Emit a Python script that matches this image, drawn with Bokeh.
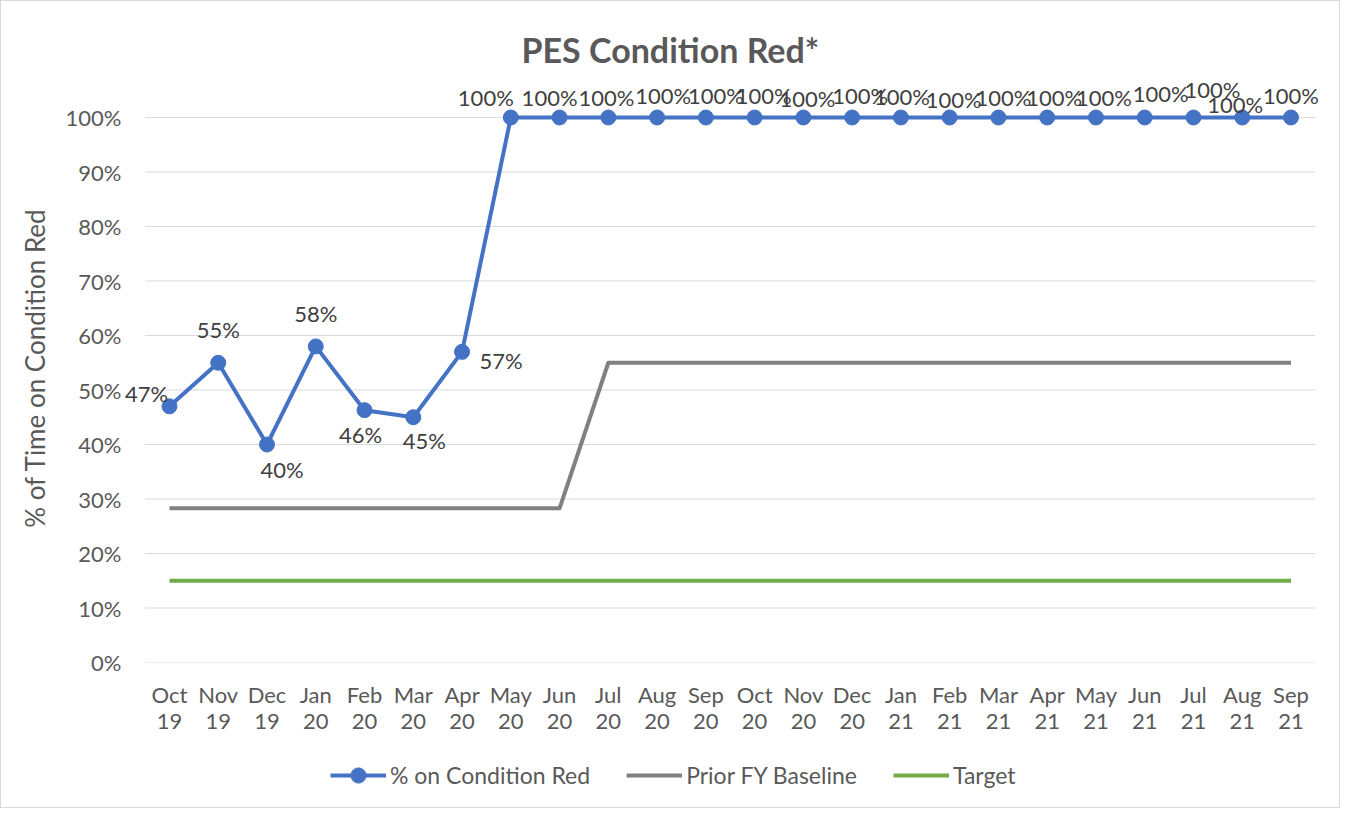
from bokeh.plotting import figure
from bokeh.layouts import column
from bokeh.models import (Range1d, FixedTicker, NumeralTickFormatter, LinearAxis,
                          Legend, LegendItem, ColumnDataSource)
from bokeh.core.properties import value
from bokeh.embed import file_html
from bokeh.resources import INLINE

# ---------------- data ----------------
months = ["Oct 19", "Nov 19", "Dec 19", "Jan 20", "Feb 20", "Mar 20", "Apr 20", "May 20",
          "Jun 20", "Jul 20", "Aug 20", "Sep 20", "Oct 20", "Nov 20", "Dec 20", "Jan 21",
          "Feb 21", "Mar 21", "Apr 21", "May 21", "Jun 21", "Jul 21", "Aug 21", "Sep 21"]
pct_condition_red = [0.47, 0.55, 0.40, 0.58, 0.463, 0.45, 0.57, 1.00,
                     1.00, 1.00, 1.00, 1.00, 1.00, 1.00, 1.00, 1.00,
                     1.00, 1.00, 1.00, 1.00, 1.00, 1.00, 1.00, 1.00]
prior_fy_baseline = [0.283, 0.283, 0.283, 0.283, 0.283, 0.283, 0.283, 0.283,
                     0.283, 0.55, 0.55, 0.55, 0.55, 0.55, 0.55, 0.55,
                     0.55, 0.55, 0.55, 0.55, 0.55, 0.55, 0.55, 0.55]
target = [0.15, 0.15, 0.15, 0.15, 0.15, 0.15, 0.15, 0.15,
          0.15, 0.15, 0.15, 0.15, 0.15, 0.15, 0.15, 0.15,
          0.15, 0.15, 0.15, 0.15, 0.15, 0.15, 0.15, 0.15]
y_ticks = [0, 0.1, 0.2, 0.3, 0.4, 0.5, 0.6, 0.7, 0.8, 0.9, 1.0]
series_names = ["% on Condition Red", "Prior FY Baseline", "Target"]

# data-label placement (style: pixel offsets from each point)
label_dx = [-23, 0, 15, 0, -4, 11, 39, -25, -10, -2, 6, 10, 9, 4, 8, 1, 4, 5, 7, 8, 16, 19, -7, 0]
label_dy = [-13, -33, 25, -33, 24, 23, 9, -20, -20, -20, -22, -22, -22, -19, -22, -21, -18, -20,
            -20, -20, -24, -28, -13, -22]

FONT = "Lato"
GREY_TXT = "#595959"
BLUE, GREY, GREEN = "#4472C4", "#808080", "#70AD47"

n = len(months)
xs = list(range(n))
W, H_MAIN, H_LEG = 1338, 745, 61

p = figure(x_range=Range1d(-0.984, n - 0.19),
           y_range=Range1d(0, 589 / 545),
           width=W, height=H_MAIN, output_backend="svg", toolbar_location=None,
           min_border_left=120, min_border_right=9, min_border_top=72,
           min_border_bottom=H_MAIN - 661,
           background_fill_color="white", border_fill_color="white",
           title="PES Condition Red*")
p.outline_line_color = None

src = ColumnDataSource(dict(
    x=xs, red=pct_condition_red, base=prior_fy_baseline, tgt=target,
    lbl=[f"{round(v * 100)}%" for v in pct_condition_red],
    dx=label_dx, dy=label_dy))

# horizontal gridlines spanning the category bands only
p.xgrid.grid_line_color = None
p.ygrid.grid_line_color = None
p.segment(x0=[-0.5] * len(y_ticks), x1=[n - 0.5] * len(y_ticks), y0=y_ticks, y1=y_ticks,
          line_color="#D9D9D9", line_width=1)

p.line("x", "tgt", source=src, line_color=GREEN, line_width=4)
p.line("x", "base", source=src, line_color=GREY, line_width=4, line_join="round")
p.line("x", "red", source=src, line_color=BLUE, line_width=4, line_join="round")
p.scatter("x", "red", source=src, size=15, marker="circle", fill_color=BLUE, line_color=BLUE)

p.text("x", "red", text="lbl", source=src, x_offset="dx", y_offset="dy",
       text_align="center", text_baseline="middle", text_font=value(FONT),
       text_font_size="22px", text_color="#404040")

# axes
p.yaxis.ticker = FixedTicker(ticks=y_ticks)
p.yaxis.formatter = NumeralTickFormatter(format="0%")
p.yaxis.axis_label = "% of Time on Condition Red"
p.yaxis.axis_label_standoff = 12
p.yaxis.axis_label_text_font = FONT
p.yaxis.axis_label_text_font_style = "normal"
p.yaxis.axis_label_text_font_size = "26px"
p.yaxis.axis_label_text_color = GREY_TXT
p.yaxis.major_label_standoff = 0

p.xaxis.ticker = FixedTicker(ticks=xs)
p.xaxis.major_label_overrides = {i: m.split()[0] for i, m in zip(xs, months)}
p.xaxis.major_label_standoff = 18

year_axis = LinearAxis(ticker=FixedTicker(ticks=xs),
                       major_label_overrides={i: m.split()[1] for i, m in zip(xs, months)},
                       major_label_standoff=3)
p.add_layout(year_axis, "below")

for ax in (p.xaxis[0], year_axis, p.yaxis[0]):
    ax.axis_line_color = None
    ax.major_tick_line_color = None
    ax.minor_tick_line_color = None
    ax.major_tick_out = 0
    ax.major_tick_in = 0
    ax.minor_tick_out = 0
    ax.major_label_text_font = FONT
    ax.major_label_text_font_size = "22px"
    ax.major_label_text_color = GREY_TXT

# title
p.title.align = "left"
p.title.offset = 400
p.title.standoff = 8
p.title.text_font = FONT
p.title.text_font_style = "bold"
p.title.text_font_size = "34px"
p.title.text_color = GREY_TXT

# legend strip (separate figure below the chart; series drawn off-view, only the key shows)
lg = figure(x_range=Range1d(0, 1), y_range=Range1d(5, 6), width=W, height=H_LEG,
            output_backend="svg", toolbar_location=None, x_axis_type=None, y_axis_type=None,
            min_border_left=0, min_border_right=0, min_border_top=0, min_border_bottom=0,
            background_fill_color="white", border_fill_color="white")
lg.outline_line_color = None
lg.xgrid.grid_line_color = None
lg.ygrid.grid_line_color = None
k_red = lg.line("x", "red", source=src, line_color=BLUE, line_width=4)
k_dot = lg.scatter("x", "red", source=src, size=15, marker="circle",
                   fill_color=BLUE, line_color=BLUE)
k_base = lg.line("x", "base", source=src, line_color=GREY, line_width=4)
k_tgt = lg.line("x", "tgt", source=src, line_color=GREEN, line_width=4)

legend = Legend(items=[
    LegendItem(label=series_names[0], renderers=[k_red, k_dot], index=0),
    LegendItem(label=series_names[1], renderers=[k_base], index=0),
    LegendItem(label=series_names[2], renderers=[k_tgt], index=0),
], location=(209, 13), orientation="horizontal",
    glyph_width=56, glyph_height=38, label_standoff=4, spacing=36,
    padding=0, margin=0, background_fill_alpha=0, border_line_color=None,
    label_text_font=FONT, label_text_font_size="23px", label_text_color=GREY_TXT)
lg.add_layout(legend, "center")

layout = column(p, lg, spacing=0, styles={"border": "1px solid #D9D9D9"})
open("out.html", "w").write(file_html(layout, INLINE))
